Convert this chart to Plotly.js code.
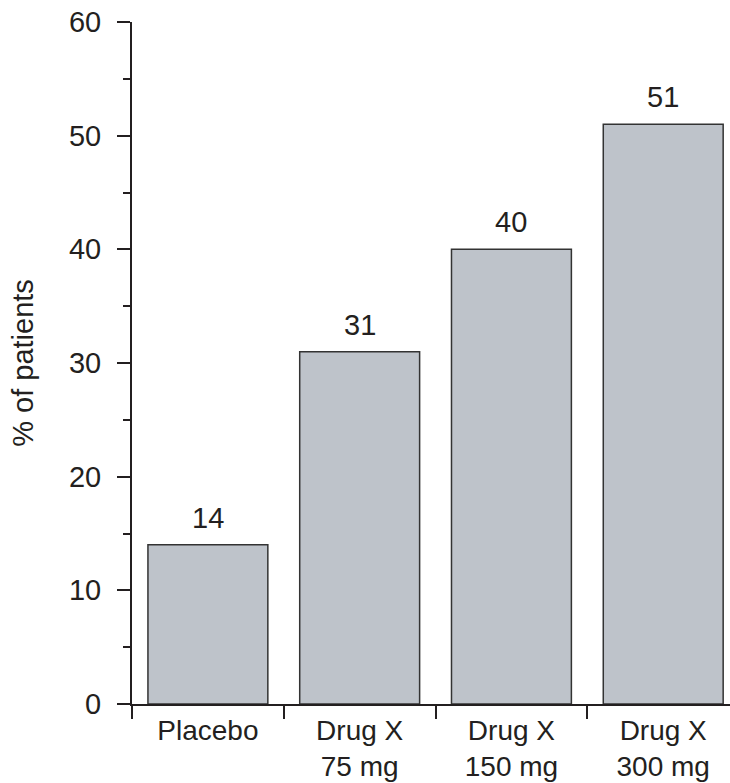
<!DOCTYPE html>
<html>
<head>
<meta charset="utf-8">
<script src="https://cdn.plot.ly/plotly-3.0.1.min.js"></script>
<style>html,body{margin:0;padding:0;background:#fff;}</style>
</head>
<body>
<div id="chart" style="width:730px;height:783px;"></div>
<script>
var categories = ["Placebo", "Drug X<br>75 mg", "Drug X<br>150 mg", "Drug X<br>300 mg"];
var percentPatients = [14, 31, 40, 51];
var yTickValues = [0, 10, 20, 30, 40, 50, 60];

var FONT = "Liberation Sans, Arial, Helvetica, sans-serif";
var INK = "#231f20";

var trace = {
  type: "bar",
  x: categories,
  y: percentPatients,
  width: 0.79,
  marker: {color: "#bec3ca", line: {color: "#333333", width: 1.5}},
  hoverinfo: "none"
};

var valueLabels = categories.map(function (c, i) {
  return {
    x: c,
    y: percentPatients[i],
    xref: "x",
    yref: "y",
    text: String(percentPatients[i]),
    showarrow: false,
    yanchor: "bottom",
    yshift: 9,
    font: {family: FONT, size: 29, color: INK}
  };
});

var layout = {
  width: 730,
  height: 783,
  margin: {l: 132, r: 0, t: 22, b: 79},
  paper_bgcolor: "#ffffff",
  plot_bgcolor: "#ffffff",
  showlegend: false,
  font: {family: FONT, size: 29, color: INK},
  annotations: valueLabels,
  xaxis: {
    type: "category",
    range: [-0.5, 3.44],
    tickson: "boundaries",
    ticks: "outside",
    ticklen: 13,
    tickwidth: 2,
    tickcolor: INK,
    showline: true,
    linecolor: INK,
    linewidth: 2,
    showgrid: false,
    zeroline: false,
    tickfont: {size: 28}
  },
  yaxis: {
    range: [0, 60],
    tickvals: yTickValues,
    ticks: "outside",
    ticklen: 13,
    tickwidth: 2,
    tickcolor: INK,
    ticklabelstandoff: 10,
    minor: {dtick: 5, ticks: "outside", ticklen: 7, tickwidth: 2, tickcolor: INK, showgrid: false},
    showline: true,
    linecolor: INK,
    linewidth: 2,
    showgrid: false,
    zeroline: false,
    tickfont: {size: 29},
    title: {text: "% of patients", font: {size: 29}, standoff: 27}
  }
};

Plotly.newPlot("chart", [trace], layout, {displayModeBar: false, staticPlot: true});
</script>
</body>
</html>
